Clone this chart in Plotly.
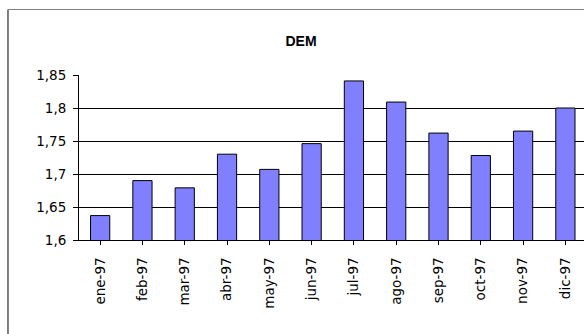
import plotly.graph_objects as go

# Monthly DEM averages, 1997
months = ["ene-97", "feb-97", "mar-97", "abr-97", "may-97", "jun-97",
          "jul-97", "ago-97", "sep-97", "oct-97", "nov-97", "dic-97"]
dem = [1.637, 1.690, 1.679, 1.730, 1.707, 1.746,
       1.841, 1.809, 1.762, 1.728, 1.765, 1.800]

y_ticks = [1.6, 1.65, 1.7, 1.75, 1.8, 1.85]
y_tick_text = ["1,6", "1,65", "1,7", "1,75", "1,8", "1,85"]

title_font = "Liberation Sans, Arial, sans-serif"
tick_font = "DejaVu Sans, sans-serif"

fig = go.Figure(
    go.Bar(
        x=list(range(len(months))),
        y=dem,
        width=1 / 2.2,
        marker=dict(color="#8080FF", line=dict(color="black", width=1)),
    )
)

fig.update_layout(
    width=584,
    height=334,
    margin=dict(l=79, r=0, t=75, b=94),
    paper_bgcolor="white",
    plot_bgcolor="white",
    showlegend=False,
    font=dict(family=tick_font, size=13.5, color="black"),
    title=dict(
        text="<b>DEM</b>",
        x=301 / 584,
        xanchor="center",
        y=1 - 41 / 334,
        yanchor="middle",
        font=dict(family=title_font, size=14, color="black"),
    ),
    xaxis=dict(
        range=[-0.5, 11.44],
        tickmode="array",
        tickvals=list(range(len(months))),
        ticktext=months,
        tickangle=-90,
        tickson="boundaries",
        ticks="outside",
        ticklen=4,
        tickcolor="black",
        ticklabelstandoff=7,
        showline=True,
        linecolor="black",
        linewidth=1,
        showgrid=False,
        zeroline=False,
        tickfont=dict(family=tick_font, size=13.5),
    ),
    yaxis=dict(
        range=[1.6, 1.85],
        tickmode="array",
        tickvals=y_ticks,
        ticktext=y_tick_text,
        ticks="outside",
        ticklen=5,
        tickcolor="black",
        ticklabelstandoff=4,
        showline=True,
        linecolor="black",
        linewidth=1,
        showgrid=True,
        gridcolor="black",
        gridwidth=1,
        zeroline=False,
        tickfont=dict(family=tick_font, size=13.5),
    ),
    shapes=[
        # chart-area frame (left and top edges)
        dict(type="line", xref="paper", yref="paper",
             x0=-0.1406, x1=-0.1406, y0=1.397, y1=-0.8,
             line=dict(color="black", width=1)),
        dict(type="line", xref="paper", yref="paper",
             x0=-0.1406, x1=1.1, y0=1.397, y1=1.397,
             line=dict(color="#808080", width=1)),
    ],
)

fig.write_html("out.html")
